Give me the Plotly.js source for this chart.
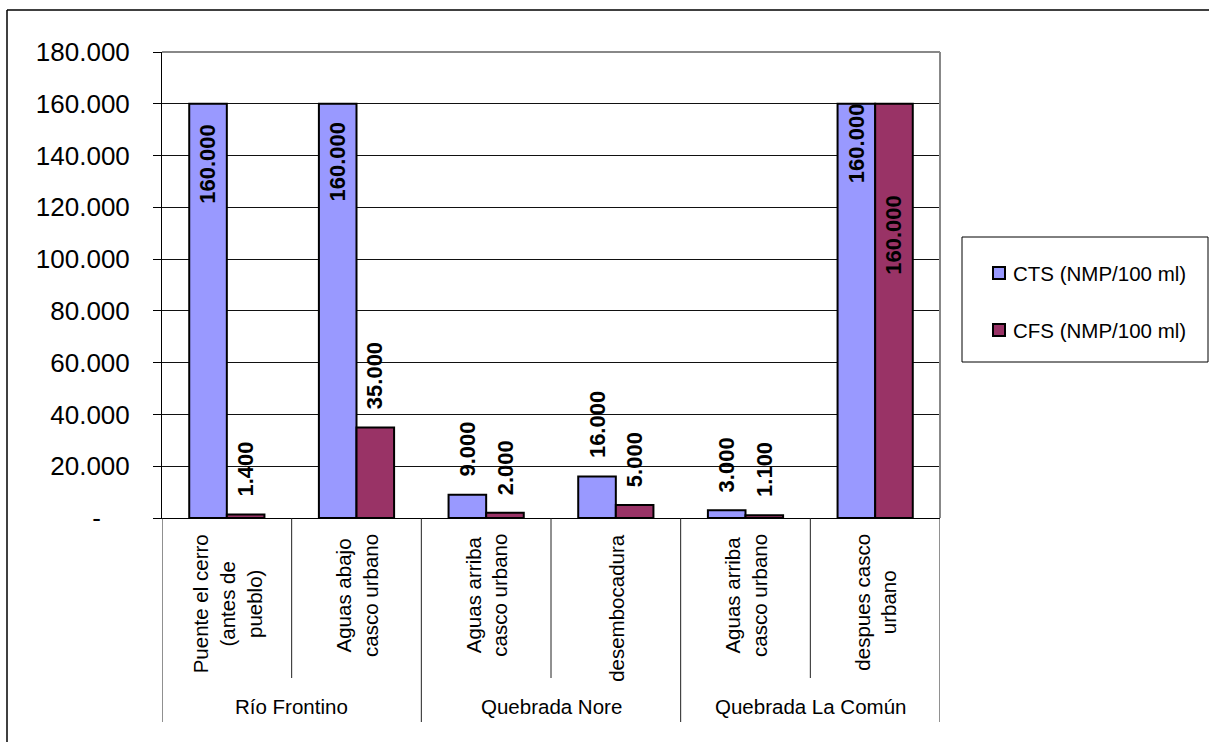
<!DOCTYPE html>
<html>
<head>
<meta charset="utf-8">
<script src="https://cdn.plot.ly/plotly-3.0.1.min.js"></script>
<style>
  html, body { margin: 0; padding: 0; background: #fff; }
  #chart { width: 1209px; height: 742px; }
</style>
</head>
<body>
<div id="chart"></div>
<script>
// Sampling points (inner category level) and the water body each belongs to
const pointLabels = [
  'Puente el cerro<br>(antes de<br>pueblo)',
  'Aguas abajo<br>casco urbano',
  'Aguas arriba<br>casco urbano',
  'desembocadura',
  'Aguas arriba<br>casco urbano',
  'despues casco<br>urbano'
];
const groupLabels = ['Río Frontino', 'Quebrada Nore', 'Quebrada La Común'];
const pointsPerGroup = [2, 2, 2];

// Coliform counts
const seriesNames = ['CTS (NMP/100 ml)', 'CFS (NMP/100 ml)'];
const ctsValues = [160000, 160000, 9000, 16000, 3000, 160000];
const cfsValues = [1400, 35000, 2000, 5000, 1100, 160000];

// Value axis ticks
const yTickValues = [0, 20000, 40000, 60000, 80000, 100000, 120000, 140000, 160000, 180000];
const yTickLabels = ['-', '20.000', '40.000', '60.000', '80.000', '100.000', '120.000', '140.000', '160.000', '180.000'];

// ---- drawing ----
const W = 1209, H = 742;
const PL = 162, PR = 940, PT = 52, PB = 518;
const FONT = 'Liberation Sans, Arial, Helvetica, sans-serif';
const COLORS = ['#9999FF', '#993366'];
const BARGAP = 0.42;

const px2x = p => (p - PL) / (PR - PL);
const px2y = p => (PB - p) / (PB - PT);
const fmt = v => String(v).replace(/\B(?=(\d{3})+(?!\d))/g, '.');

const xs = pointLabels.map((_, i) => i);
const seriesValues = [ctsValues, cfsValues];

// vertical placement of each value label (pixels from bar top to text end)
const labelShift = [
  [-102, -100, 16, 16, 16, -81],
  [16, 16, 16, 16, 16, -173]
];

const traces = seriesValues.map((vals, s) => ({
  type: 'bar',
  x: xs,
  y: vals,
  name: seriesNames[s],
  marker: { color: COLORS[s], line: { color: '#000', width: 2 } },
  hoverinfo: 'skip',
  showlegend: false
}));

const barW = (1 - BARGAP) / 2;
const annotations = [];

// value labels
seriesValues.forEach((vals, s) => {
  const off = (s === 0 ? -1 : 1) * barW / 2;
  vals.forEach((v, i) => {
    annotations.push({
      x: i + off, y: v, xref: 'x', yref: 'y',
      text: '<b>' + fmt(v) + '</b>',
      textangle: -90,
      xanchor: 'center', yanchor: 'bottom',
      yshift: labelShift[s][i],
      showarrow: false,
      font: { family: FONT, size: 22, color: '#000' }
    });
  });
});

// inner category labels
pointLabels.forEach((lab, i) => {
  annotations.push({
    x: i, y: px2y(532), xref: 'x', yref: 'paper',
    text: lab, textangle: -90, align: 'center',
    xanchor: 'center', yanchor: 'top',
    showarrow: false,
    font: { family: FONT, size: 20.5, color: '#000' }
  });
});

const shapes = [];
// group labels and separators
let start = 0;
groupLabels.forEach((g, k) => {
  const n = pointsPerGroup[k];
  annotations.push({
    x: start + (n - 1) / 2, y: px2y(707), xref: 'x', yref: 'paper',
    text: g, xanchor: 'center', yanchor: 'middle', showarrow: false,
    font: { family: FONT, size: 20.5, color: '#000' }
  });
  start += n;
});
const groupEdges = new Set([0]);
{ let acc = 0; pointsPerGroup.forEach(n => { acc += n; groupEdges.add(acc); }); }
for (let b = 0; b <= pointLabels.length; b++) {
  shapes.push({
    type: 'line', xref: 'x', yref: 'paper',
    x0: b - 0.5, x1: b - 0.5, y0: 0, y1: px2y(groupEdges.has(b) ? 722 : 678),
    line: { color: '#222', width: 1 }
  });
}

// plot area frame (top and right)
shapes.push({ type: 'line', xref: 'paper', yref: 'paper', x0: 0, x1: 1, y0: 1, y1: 1,
  line: { color: '#888', width: 2 }, layer: 'above' });
shapes.push({ type: 'line', xref: 'paper', yref: 'paper', x0: 1, x1: 1, y0: 0, y1: 1,
  line: { color: '#888', width: 2 }, layer: 'above' });

// chart frame
shapes.push({ type: 'line', xref: 'paper', yref: 'paper',
  x0: px2x(7), x1: px2x(W + 2), y0: px2y(10), y1: px2y(10), line: { color: '#000', width: 1.5 } });
shapes.push({ type: 'line', xref: 'paper', yref: 'paper',
  x0: px2x(7), x1: px2x(7), y0: px2y(10), y1: px2y(H + 2), line: { color: '#000', width: 1.5 } });

// legend
shapes.push({ type: 'rect', xref: 'paper', yref: 'paper',
  x0: px2x(962), x1: px2x(1208), y0: px2y(237), y1: px2y(362),
  line: { color: '#000', width: 1 }, fillcolor: '#fff' });
const legendY = [273, 330];
seriesNames.forEach((nm, s) => {
  shapes.push({ type: 'rect', xref: 'paper', yref: 'paper',
    x0: px2x(993), x1: px2x(1005), y0: px2y(legendY[s] - 6), y1: px2y(legendY[s] + 6),
    line: { color: '#000', width: 2 }, fillcolor: COLORS[s] });
  annotations.push({
    x: px2x(1011), y: px2y(legendY[s]), xref: 'paper', yref: 'paper',
    text: nm, xanchor: 'left', yanchor: 'middle', showarrow: false,
    font: { family: FONT, size: 20.5, color: '#000' }
  });
});

const layout = {
  width: W, height: H,
  margin: { l: PL, r: W - PR, t: PT, b: H - PB, pad: 0 },
  paper_bgcolor: '#fff', plot_bgcolor: '#fff',
  barmode: 'group', bargap: BARGAP, bargroupgap: 0,
  showlegend: false,
  font: { family: FONT, color: '#000' },
  xaxis: {
    range: [-0.5, pointLabels.length - 0.5],
    showticklabels: false, ticks: '', showgrid: false, zeroline: false,
    showline: true, linecolor: '#000', linewidth: 1, fixedrange: true
  },
  yaxis: {
    range: [0, 180000],
    tickmode: 'array', tickvals: yTickValues,
    ticktext: yTickLabels.map(t => t === '-' ? '-\u00a0\u00a0\u00a0\u00a0' : t),
    ticks: 'outside', ticklen: 8, tickcolor: '#000', tickwidth: 1,
    ticklabelstandoff: 18,
    tickfont: { family: FONT, size: 26, color: '#000' },
    showgrid: true, gridcolor: '#111', gridwidth: 1,
    zeroline: false, showline: true, linecolor: '#000', linewidth: 1,
    fixedrange: true
  },
  shapes: shapes,
  annotations: annotations
};

Plotly.newPlot('chart', traces, layout, { displayModeBar: false, staticPlot: true });
</script>
</body>
</html>
